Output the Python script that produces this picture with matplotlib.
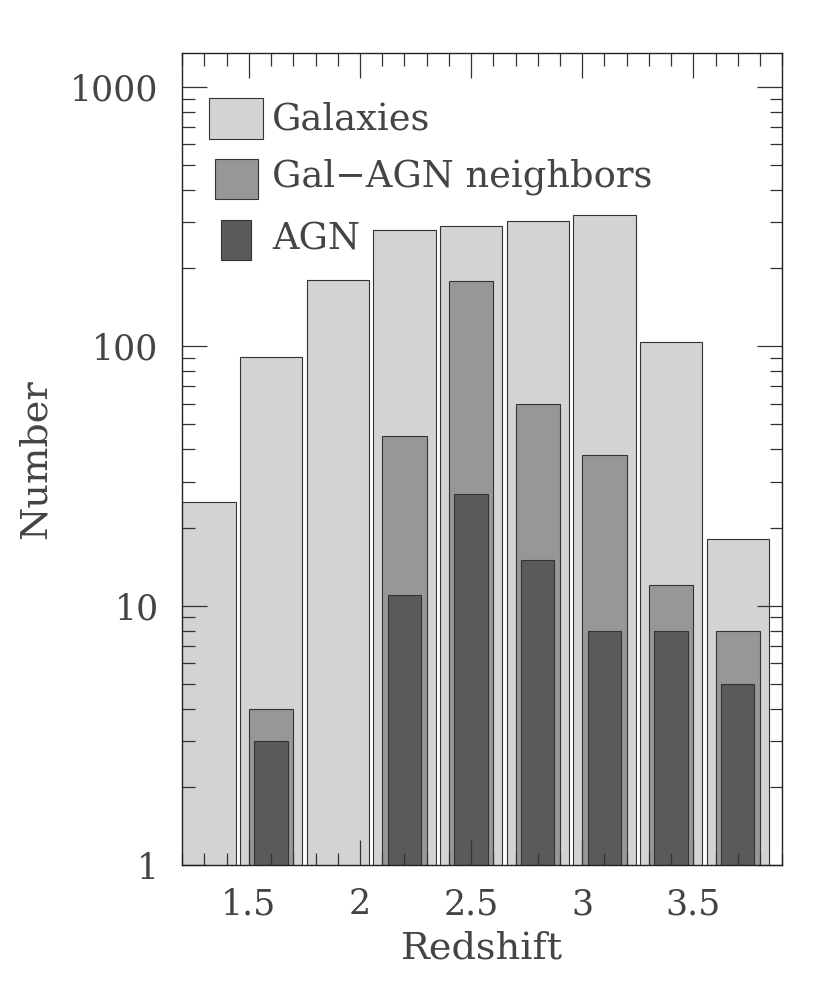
import matplotlib
matplotlib.use("Agg")
import matplotlib.pyplot as plt
from matplotlib.patches import Rectangle
from matplotlib.ticker import FixedLocator, LogLocator, MultipleLocator, FuncFormatter, NullFormatter

# bin centres (redshift) and counts per bin
z_centers = [1.3, 1.6, 1.9, 2.2, 2.5, 2.8, 3.1, 3.4, 3.7]
n_galaxies = [25, 91, 180, 280, 290, 305, 320, 104, 18]
n_neighbors = [0, 4, 0, 45, 178, 60, 38, 12, 8]
n_agn = [0, 3, 0, 11, 27, 15, 8, 8, 5]

labels = ["Galaxies", "Gal\u2212AGN neighbors", "AGN"]
colors = ["#d3d3d3", "#979797", "#5a5a5a"]
widths = [0.28, 0.2, 0.15]

plt.rcParams["font.family"] = ["DejaVu Serif"]
txt = "#444444"
fs = 25

fig = plt.figure(figsize=(8.3, 9.85), dpi=100)
ax = fig.add_axes([0.2196, 0.1218, 0.7229, 0.8244])

for vals, c, w in zip([n_galaxies, n_neighbors, n_agn], colors, widths):
    ax.bar(z_centers, vals, width=w, color=c, edgecolor="#333333", linewidth=0.8, zorder=1)

ax.set_yscale("log")
ax.set_xlim(1.2, 3.9)
ax.set_ylim(1, 1350)

ax.xaxis.set_major_locator(MultipleLocator(0.5))
ax.xaxis.set_minor_locator(MultipleLocator(0.1))
ax.xaxis.set_major_formatter(FuncFormatter(lambda v, p: "%g" % v))
ax.yaxis.set_major_locator(FixedLocator([1, 10, 100, 1000]))
ax.yaxis.set_minor_locator(LogLocator(base=10, subs=range(2, 10)))
ax.yaxis.set_major_formatter(FuncFormatter(lambda v, p: "%d" % v))
ax.yaxis.set_minor_formatter(NullFormatter())

ax.tick_params(which="both", direction="in", top=True, right=True, color="#333333", zorder=5)
ax.tick_params(which="major", length=18, width=0.9, labelsize=fs, labelcolor=txt)
ax.tick_params(which="minor", length=9, width=0.9)
ax.tick_params(axis="x", which="major", pad=16)
ax.tick_params(axis="y", which="major", pad=17)
for s in ax.spines.values():
    s.set_linewidth(1.0)
    s.set_color("#222222")
    s.set_zorder(6)
ax.set_axisbelow(False)

ax.set_xlabel("Redshift", fontsize=27.5, color=txt, labelpad=7)
ax.set_ylabel("Number", fontsize=27.5, color=txt, labelpad=12)

# legend drawn by hand: boxes of different sizes
boxes = [(0.0445, 0.894, 0.090, 0.051), (0.0545, 0.820, 0.072, 0.049), (0.0645, 0.745, 0.050, 0.049)]
text_y = [0.9175, 0.847, 0.770]
for (x0, y0, w, h), c, lab, ty in zip(boxes, colors, labels, text_y):
    ax.add_patch(Rectangle((x0, y0), w, h, transform=ax.transAxes, facecolor=c,
                           edgecolor="#333333", linewidth=0.8, zorder=4))
    ax.text(0.1495, ty, lab, transform=ax.transAxes, fontsize=26.5, color=txt,
            va="center", ha="left", zorder=4)

fig.savefig("out.png", dpi=100)
